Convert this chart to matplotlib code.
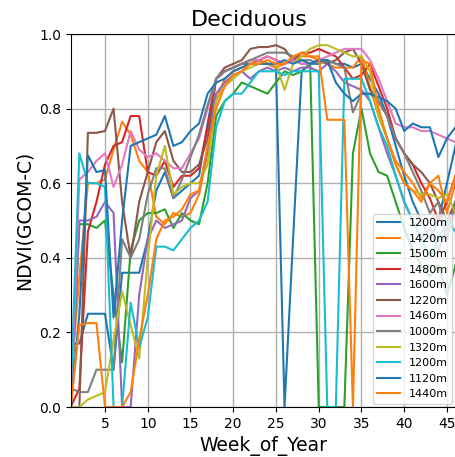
import numpy as np
import matplotlib
matplotlib.use('Agg')
import matplotlib.pyplot as plt

# NDVI (GCOM-C) by week of year, deciduous sites
weeks = np.arange(1, 47)
labels = ['1200m', '1420m', '1500m', '1480m', '1600m', '1220m',
          '1460m', '1000m', '1320m', '1200m', '1120m', '1440m']

s_1200a = [0.17, 0.17, 0.25, 0.25, 0.25, 0.10, 0.36, 0.36, 0.36, 0.45, 0.58, 0.63, 0.56, 0.58, 0.60, 0.62,
           0.76, 0.88, 0.90, 0.91, 0.92, 0.92, 0.93, 0.92, 0.91, 0.00, 0.45, 0.90, 0.92, 0.92, 0.93, 0.92,
           0.92, 0.91, 0.92, 0.88, 0.84, 0.78, 0.70, 0.62, 0.55, 0.50, 0.45, 0.50, 0.60, 0.70]
s_1420 = [0.07, 0.35, 0.60, 0.60, 0.61, 0.69, 0.765, 0.73, 0.66, 0.63, 0.51, 0.49, 0.52, 0.51, 0.52, 0.57,
          0.68, 0.82, 0.88, 0.90, 0.91, 0.92, 0.93, 0.92, 0.91, 0.92, 0.93, 0.94, 0.94, 0.93, 0.92, 0.91,
          0.91, 0.91, 0.94, 0.86, 0.78, 0.72, 0.66, 0.63, 0.60, 0.56, 0.60, 0.62, 0.52, 0.60]
s_1500 = [0.00, 0.49, 0.49, 0.48, 0.50, 0.30, 0.12, 0.42, 0.50, 0.52, 0.52, 0.53, 0.48, 0.52, 0.50, 0.49,
          0.60, 0.78, 0.82, 0.84, 0.87, 0.86, 0.85, 0.84, 0.87, 0.90, 0.89, 0.90, 0.92, 0.00, 0.00, 0.00,
          0.00, 0.68, 0.80, 0.68, 0.63, 0.62, 0.55, 0.48, 0.42, 0.38, 0.35, 0.38, 0.30, 0.38]
s_1480 = [0.00, 0.05, 0.47, 0.55, 0.65, 0.70, 0.71, 0.78, 0.78, 0.63, 0.62, 0.66, 0.59, 0.62, 0.62, 0.64,
          0.75, 0.88, 0.90, 0.91, 0.92, 0.93, 0.93, 0.94, 0.93, 0.92, 0.93, 0.95, 0.95, 0.96, 0.95, 0.94,
          0.91, 0.88, 0.89, 0.92, 0.86, 0.80, 0.72, 0.68, 0.65, 0.60, 0.56, 0.50, 0.55, 0.62]
s_1600 = [0.00, 0.50, 0.50, 0.51, 0.55, 0.52, 0.00, 0.00, 0.30, 0.45, 0.50, 0.48, 0.49, 0.50, 0.56, 0.58,
          0.69, 0.84, 0.87, 0.89, 0.90, 0.88, 0.90, 0.91, 0.90, 0.91, 0.90, 0.91, 0.91, 0.90, 0.92, 0.90,
          0.87, 0.86, 0.85, 0.82, 0.75, 0.68, 0.62, 0.55, 0.50, 0.45, 0.48, 0.42, 0.48, 0.55]
s_1220 = [0.00, 0.00, 0.735, 0.735, 0.74, 0.80, 0.55, 0.40, 0.55, 0.63, 0.71, 0.74, 0.66, 0.63, 0.63, 0.65,
          0.72, 0.88, 0.91, 0.92, 0.93, 0.96, 0.965, 0.965, 0.97, 0.96, 0.93, 0.92, 0.92, 0.93, 0.92, 0.93,
          0.95, 0.96, 0.92, 0.85, 0.82, 0.78, 0.72, 0.68, 0.65, 0.63, 0.60, 0.55, 0.50, 0.55]
s_1460 = [0.00, 0.61, 0.63, 0.66, 0.68, 0.59, 0.65, 0.74, 0.69, 0.67, 0.68, 0.66, 0.64, 0.64, 0.68, 0.72,
          0.80, 0.88, 0.90, 0.91, 0.92, 0.93, 0.93, 0.94, 0.93, 0.92, 0.93, 0.92, 0.92, 0.93, 0.94, 0.95,
          0.96, 0.96, 0.96, 0.93, 0.88, 0.82, 0.76, 0.75, 0.75, 0.74, 0.74, 0.73, 0.72, 0.71]
s_1000 = [0.05, 0.04, 0.04, 0.10, 0.10, 0.10, 0.45, 0.40, 0.45, 0.57, 0.64, 0.64, 0.56, 0.61, 0.67, 0.73,
          0.81, 0.88, 0.90, 0.91, 0.92, 0.93, 0.94, 0.95, 0.95, 0.95, 0.94, 0.93, 0.93, 0.92, 0.93, 0.92,
          0.91, 0.79, 0.84, 0.84, 0.82, 0.78, 0.72, 0.68, 0.63, 0.58, 0.52, 0.55, 0.45, 0.55]
s_1320 = [0.00, 0.00, 0.02, 0.03, 0.04, 0.18, 0.31, 0.22, 0.13, 0.40, 0.62, 0.70, 0.57, 0.59, 0.60, 0.60,
          0.65, 0.82, 0.86, 0.88, 0.90, 0.91, 0.92, 0.92, 0.92, 0.85, 0.92, 0.94, 0.96, 0.97, 0.97, 0.96,
          0.95, 0.94, 0.94, 0.90, 0.78, 0.72, 0.65, 0.60, 0.58, 0.57, 0.57, 0.56, 0.57, 0.52]
s_1200b = [0.05, 0.68, 0.60, 0.60, 0.59, 0.00, 0.00, 0.28, 0.16, 0.24, 0.43, 0.43, 0.42, 0.45, 0.48, 0.50,
           0.55, 0.75, 0.82, 0.84, 0.84, 0.87, 0.90, 0.90, 0.90, 0.89, 0.90, 0.90, 0.90, 0.90, 0.00, 0.00,
           0.88, 0.88, 0.88, 0.82, 0.75, 0.70, 0.62, 0.55, 0.50, 0.45, 0.40, 0.45, 0.50, 0.47]
s_1120 = [0.00, 0.25, 0.675, 0.63, 0.635, 0.24, 0.50, 0.70, 0.71, 0.72, 0.73, 0.78, 0.70, 0.71, 0.74, 0.76,
          0.84, 0.87, 0.88, 0.90, 0.91, 0.92, 0.92, 0.92, 0.92, 0.93, 0.92, 0.93, 0.92, 0.93, 0.93, 0.87,
          0.84, 0.82, 0.84, 0.84, 0.83, 0.82, 0.80, 0.74, 0.76, 0.75, 0.75, 0.67, 0.72, 0.75]
s_1440 = [0.00, 0.22, 0.225, 0.225, 0.00, 0.00, 0.00, 0.04, 0.18, 0.30, 0.45, 0.50, 0.51, 0.53, 0.57, 0.58,
          0.70, 0.80, 0.86, 0.89, 0.90, 0.92, 0.92, 0.93, 0.92, 0.92, 0.94, 0.95, 0.94, 0.94, 0.77, 0.77,
          0.77, 0.00, 0.93, 0.92, 0.80, 0.72, 0.65, 0.60, 0.58, 0.55, 0.60, 0.58, 0.55, 0.62]

series = [s_1200a, s_1420, s_1500, s_1480, s_1600, s_1220,
          s_1460, s_1000, s_1320, s_1200b, s_1120, s_1440]

fig = plt.figure(figsize=(4.56, 4.57), dpi=100)
ax = fig.add_axes([0.1553, 0.1094, 0.8436, 0.8162])

for vals, lab in zip(series, labels):
    ax.plot(weeks, vals, lw=1.5, label=lab)

ax.set_xlim(1, 46)
ax.set_ylim(0, 1)
ax.set_xticks([5, 10, 15, 20, 25, 30, 35, 40, 45])
ax.set_yticks([0.0, 0.2, 0.4, 0.6, 0.8, 1.0])
ax.tick_params(labelsize=10)
ax.grid(True, color='#b0b0b0', lw=1.0)
ax.set_title('Deciduous', fontsize=16, x=0.463)
ax.set_xlabel('Week_of_Year', fontsize=13.5)
ax.set_ylabel('NDVI(GCOM-C)', fontsize=13.5)
ax.legend(loc='lower right', fontsize=8, borderaxespad=0.3)

fig.savefig('out.png', dpi=100)
